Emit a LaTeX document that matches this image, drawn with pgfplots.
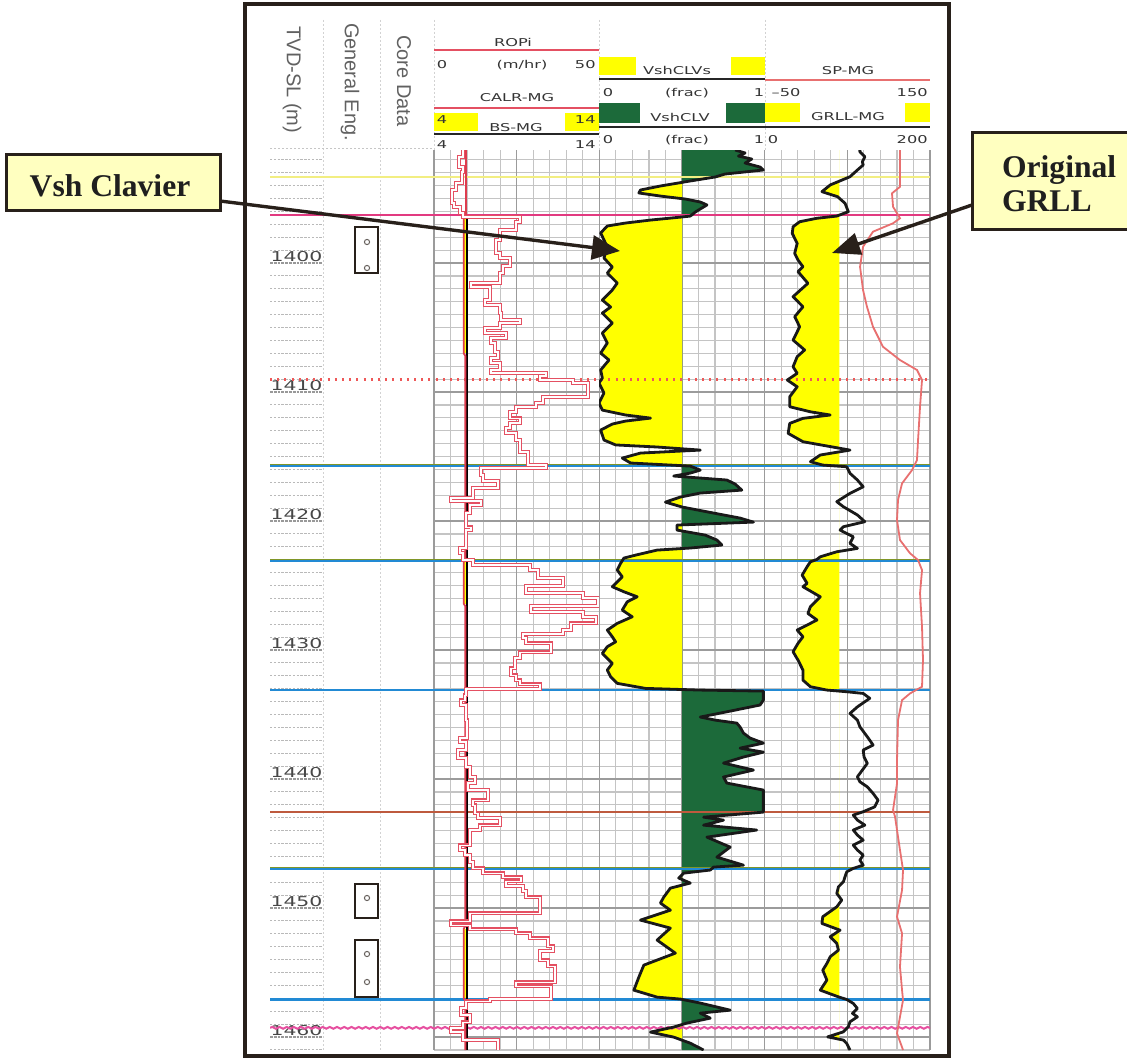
\documentclass[border=0pt]{standalone}
\usepackage{pgfplots}
\pgfplotsset{compat=1.18}
\usepackage{pgfplotstable}
\usepackage{fontspec}
\setmainfont{Liberation Serif}
\newfontfamily\logfont[FakeStretch=1.5]{DejaVu Sans}
\newfontfamily\colfont{Liberation Sans}
\usetikzlibrary{arrows.meta,decorations.pathmorphing}

\definecolor{shyellow}{RGB}{255,255,0}
\definecolor{shgreen}{RGB}{28,106,58}
\definecolor{ropred}{RGB}{228,80,98}
\definecolor{calred}{RGB}{222,60,78}
\definecolor{spred}{RGB}{232,112,112}
\definecolor{framec}{RGB}{40,32,26}
\definecolor{calloutfill}{RGB}{255,255,192}
\definecolor{topyellow}{RGB}{242,238,130}
\definecolor{topmagenta}{RGB}{226,58,128}
\definecolor{topred}{RGB}{238,88,88}
\definecolor{topblue}{RGB}{34,138,212}
\definecolor{topolive}{RGB}{128,150,40}
\definecolor{topbrown}{RGB}{190,90,62}
\definecolor{toppink}{RGB}{230,80,160}
\definecolor{hdrtext}{RGB}{52,52,52}
\definecolor{gridminor}{RGB}{196,196,196}
\definecolor{gridmajor}{RGB}{155,155,155}

% depth (m), shale volume Clavier (frac)
\pgfplotstableread{
d v
1391.24 0.82
1391.47 0.88
1391.71 0.84
1391.94 0.92
1392.25 0.88
1392.56 0.97
1392.79 0.99
1393.10 0.76
1393.33 0.70
1393.64 0.55
1394.03 0.37
1394.34 0.25
1394.57 0.24
1394.81 0.37
1395.04 0.52
1395.27 0.61
1395.50 0.65
1395.81 0.61
1396.05 0.58
1396.36 0.55
1396.43 0.50
1396.67 0.31
1396.90 0.16
1397.13 0.05
1397.67 0.01
1398.76 0.05
1399.61 0.03
1400.31 0.08
1400.78 0.05
1401.55 0.11
1402.09 0.08
1402.87 0.02
1403.41 0.07
1403.88 0.02
1404.65 0.08
1405.43 0.02
1406.20 0.05
1406.98 0.01
1407.52 0.06
1408.29 0.01
1408.91 0.02
1409.30 0.00
1410.08 0.03
1410.85 0.00
1411.40 0.02
1411.78 0.16
1412.02 0.31
1412.25 0.16
1412.48 0.08
1412.95 0.01
1413.72 0.03
1414.10 0.10
1414.26 0.35
1414.50 0.61
1414.73 0.25
1415.12 0.14
1415.50 0.19
1415.74 0.55
1416.05 0.61
1416.28 0.55
1416.51 0.45
1416.82 0.77
1417.13 0.82
1417.60 0.86
1417.83 0.61
1418.14 0.49
1418.53 0.40
1418.91 0.50
1419.38 0.69
1419.77 0.85
1420.08 0.93
1420.31 0.47
1420.70 0.47
1421.09 0.64
1421.47 0.71
1421.86 0.74
1422.09 0.55
1422.25 0.35
1422.64 0.22
1422.87 0.15
1423.28 0.13
1423.80 0.11
1424.32 0.14
1425.09 0.08
1425.48 0.15
1425.87 0.23
1426.26 0.17
1426.90 0.14
1427.42 0.20
1427.93 0.11
1428.45 0.05
1428.97 0.08
1429.36 0.10
1429.74 0.05
1430.26 0.02
1430.64 0.05
1431.03 0.08
1431.55 0.05
1432.07 0.07
1432.58 0.11
1432.97 0.28
1433.10 0.61
1433.18 0.99
1433.88 0.99
1434.26 0.97
1434.81 0.76
1435.19 0.61
1435.43 0.70
1435.66 0.83
1435.97 0.85
1436.43 0.87
1436.82 0.91
1437.21 0.99
1437.60 0.85
1437.91 0.99
1438.29 0.87
1438.76 0.75
1439.30 0.93
1439.84 0.75
1440.31 0.77
1440.85 0.99
1442.56 0.99
1442.95 0.63
1443.18 0.75
1443.57 0.63
1443.95 0.95
1444.50 0.65
1445.27 0.79
1446.05 0.71
1446.67 0.87
1446.82 0.69
1447.05 0.67
1447.29 0.51
1447.67 0.48
1448.06 0.55
1448.45 0.43
1449.15 0.39
1449.61 0.37
1450.16 0.43
1450.93 0.25
1451.55 0.43
1452.48 0.35
1453.49 0.46
1454.42 0.27
1455.35 0.24
1456.36 0.21
1456.90 0.35
1457.05 0.49
1457.36 0.61
1457.91 0.79
1458.14 0.61
1458.53 0.67
1458.91 0.53
1459.22 0.45
1459.61 0.31
1460.00 0.45
1460.47 0.55
1461.00 0.63
}\vshtab

% depth (m), gamma ray GRLL-MG (API)
\pgfplotstableread{
d g
1391.24 115
1391.37 115
1391.76 121
1392.15 118
1392.40 119
1392.79 112
1393.31 103
1393.95 79
1394.47 69
1394.86 88
1395.37 97
1396.02 101
1396.36 87
1396.53 63
1396.80 42
1397.19 34
1397.70 33
1398.47 39
1399.25 36
1399.77 40
1400.29 46
1400.67 40
1401.57 52
1402.61 34
1403.39 46
1404.16 36
1404.94 42
1405.97 34
1406.74 48
1407.26 39
1408.04 34
1408.55 39
1409.07 27
1409.59 39
1410.36 30
1411.14 30
1411.53 55
1411.78 79
1412.04 46
1412.43 30
1413.20 28
1413.85 46
1414.50 103
1414.88 67
1415.40 55
1415.66 70
1415.79 99
1416.30 103
1416.82 112
1417.34 119
1417.85 103
1418.50 87
1418.89 95
1419.53 112
1420.05 121
1420.44 95
1420.70 91
1421.22 107
1421.73 103
1422.12 112
1422.38 87
1422.77 67
1422.97 63
1423.16 55
1423.54 51
1424.19 45
1424.83 51
1425.09 46
1425.87 67
1426.64 55
1427.16 52
1427.67 63
1428.45 39
1428.97 46
1429.48 40
1430.13 34
1430.78 40
1431.55 46
1432.33 46
1432.84 55
1433.10 75
1433.23 99
1433.36 119
1433.74 127
1434.40 112
1434.91 103
1435.43 112
1435.95 115
1436.72 124
1437.36 131
1437.75 119
1438.27 120
1438.78 124
1439.30 118
1439.82 112
1440.21 115
1440.60 124
1441.11 131
1441.63 137
1442.15 133
1442.53 119
1442.79 107
1443.18 112
1443.57 121
1443.95 107
1444.34 112
1444.73 119
1445.12 107
1445.50 112
1445.89 119
1446.28 115
1446.67 119
1446.92 107
1447.19 99
1447.57 97
1447.96 95
1448.35 89
1448.86 87
1449.38 93
1449.90 87
1450.67 70
1451.19 69
1451.71 91
1452.22 79
1452.74 87
1453.26 89
1453.77 79
1454.29 75
1454.81 70
1455.58 75
1456.36 67
1456.88 89
1457.08 99
1457.39 107
1457.78 112
1458.16 106
1458.43 112
1458.81 103
1459.20 101
1459.59 95
1459.98 76
1460.23 95
1460.49 99
1461.00 103
}\grtab

% depth (m), spontaneous potential SP-MG (mV)
\pgfplotstableread{
d s
1391.24 113.6
1394.09 113.6
1394.60 103.9
1395.64 105.2
1396.53 113.6
1396.92 105.2
1397.57 80.9
1398.74 68.8
1400.29 65.2
1402.09 68.8
1403.39 73.6
1404.94 80.9
1406.49 93.0
1407.52 113.6
1408.29 134.2
1409.07 140.3
1411.14 137.9
1413.72 135.5
1415.27 134.2
1416.05 128.2
1417.08 116.1
1418.37 111.2
1419.92 110.0
1421.47 113.6
1422.50 125.8
1423.02 135.5
1423.80 140.3
1425.60 137.9
1428.19 140.3
1430.78 141.5
1432.84 140.3
1433.36 125.8
1433.88 116.1
1435.43 111.2
1438.53 110.0
1440.33 110.0
1442.40 105.2
1442.92 107.6
1445.50 113.6
1447.05 117.3
1448.60 116.1
1450.67 110.0
1451.96 116.1
1454.55 113.6
1456.36 116.1
1457.13 117.3
1458.43 113.6
1459.71 110.0
1461.00 117.3
}\sptab

% depth at top of each interval (m), rate of penetration ROPi (m/hr)
\pgfplotstableread{
d r
1391.24 8.79
1391.78 7.58
1392.56 8.79
1392.95 8.48
1393.80 6.67
1394.34 5.45
1395.35 6.06
1395.66 7.88
1396.12 8.79
1396.43 26.06
1396.82 24.85
1397.44 20.00
1398.22 18.79
1399.22 20.00
1399.61 23.03
1400.23 20.91
1400.78 20.00
1401.55 11.21
1401.86 16.97
1402.87 15.45
1403.26 20.00
1403.88 20.30
1404.42 26.06
1404.65 20.00
1405.04 15.45
1405.43 21.82
1405.81 17.27
1406.20 18.48
1406.90 19.39
1407.36 17.27
1407.75 20.00
1408.29 17.27
1408.53 33.94
1408.76 32.12
1409.07 42.12
1409.30 46.67
1410.39 33.03
1410.85 30.91
1411.16 24.85
1411.55 23.03
1412.02 26.06
1412.40 23.03
1412.79 21.82
1413.18 24.85
1413.72 26.06
1414.65 28.48
1415.66 33.94
1415.89 14.24
1416.43 14.85
1416.90 19.39
1417.44 11.82
1418.22 5.15
1418.45 14.24
1418.76 10.91
1419.38 9.70
1420.47 11.21
1420.70 9.70
1422.09 7.88
1422.48 8.79
1423.02 11.82
1423.41 29.09
1423.80 31.52
1424.42 39.09
1425.04 27.88
1425.58 45.15
1425.97 49.70
1426.59 29.39
1427.05 45.15
1427.44 49.09
1427.91 41.52
1428.45 39.09
1428.76 26.97
1429.07 27.88
1429.46 35.45
1430.16 26.06
1430.62 24.55
1431.40 23.33
1431.94 24.85
1432.33 26.06
1432.64 32.12
1433.02 9.70
1433.49 9.39
1433.88 8.18
1434.26 9.70
1435.43 10.00
1436.82 7.88
1437.13 9.70
1437.75 7.27
1438.37 9.70
1439.07 10.91
1439.84 12.42
1440.31 10.30
1440.85 16.36
1441.63 11.82
1442.02 12.42
1442.64 13.33
1443.02 20.00
1443.57 13.94
1443.95 10.91
1445.12 7.88
1445.50 9.39
1445.89 10.91
1446.43 11.82
1446.90 14.85
1447.29 20.91
1447.60 26.36
1447.91 21.82
1448.29 26.97
1448.68 27.88
1449.15 32.12
1450.39 10.91
1451.01 5.15
1451.32 10.91
1451.63 24.85
1451.94 29.09
1452.33 34.55
1452.95 36.06
1453.33 32.12
1454.03 34.55
1454.50 36.67
1455.74 24.85
1456.05 35.45
1457.05 16.97
1457.21 9.70
1457.75 8.18
1458.29 10.91
1458.84 8.79
1459.30 5.15
1459.61 8.79
1460.23 19.39
1461.00 19.39
}\roptab

% depth (m), caliper CALR-MG (in)
\pgfplotstableread{
d c
1391.24 5.94
1396.40 5.94
1396.50 5.80
1407.00 5.80
1407.20 5.90
1423.05 5.90
1423.15 5.80
1426.40 5.80
1426.60 5.90
1451.40 5.90
1451.60 5.80
1457.00 5.80
1457.20 5.90
1461.00 5.90
}\caltab

\pgfplotsset{
  logaxis/.style={scale only axis, anchor=north west, height=450pt,
    ymin=1391.24, ymax=1461.0, y dir=reverse},
  curveaxis/.style={logaxis, hide axis, clip=true},
}

\tikzset{
  hdr/.style={font={\logfont\fontsize{5.4}{6}\selectfont}, text=hdrtext, inner sep=0pt},
  colhdr/.style={font={\colfont\fontsize{10}{12}\selectfont}, text=black!62, rotate=-90, inner sep=0pt},
  depthlbl/.style={font={\logfont\fontsize{6.8}{8}\selectfont}, text=black!72, anchor=south, inner sep=0.6pt},
  callout/.style={font={\bfseries\fontsize{15.8}{17}\selectfont}, text=black!88},
  px/.style={x=0.5pt, y=-0.5pt},
}

\begin{document}
\begin{tikzpicture}
% the sheet: 1127 x 1059 units of 0.5pt, measured down from the top left
\useasboundingbox (0pt,0pt) rectangle (563.5pt,-529.5pt);
\clip (0pt,0pt) rectangle (563.5pt,-529.5pt);

\begin{scope}[px]
% ---------- column separators and header rules ----------
\draw[gray!35, line width=0.4pt, dash pattern=on 1pt off 1pt] (323,20) -- (323,1050);
\draw[gray!35, line width=0.4pt, dash pattern=on 1pt off 1pt] (380,20) -- (380,1050);
\draw[gray!35, line width=0.4pt, dash pattern=on 1pt off 1pt] (434,20) -- (434,150);
\draw[gray!35, line width=0.4pt, dash pattern=on 1pt off 1pt] (599,20) -- (599,150);
\draw[gray!35, line width=0.4pt, dash pattern=on 1pt off 1pt] (765,20) -- (765,150);
\draw[gray!45, line width=0.4pt, dash pattern=on 1pt off 1pt] (270,148) -- (434,148);
\end{scope}

% ---------- depth column grid and labels ----------
\begin{axis}[logaxis, at={(135pt,-75pt)}, width=26.5pt, xmin=0, xmax=1,
  axis line style={draw=none}, tick style={draw=none},
  xtick=\empty, ytick={1392,...,1461}, yticklabels={},
  ymajorgrids, major grid style={gray!55, line width=0.5pt, dash pattern=on 1.2pt off 0.7pt},
  extra y ticks={1400,1410,...,1460}, extra y tick labels={},
  extra y tick style={grid=major, major grid style={gray!80, line width=0.7pt, dash pattern=on 1.4pt off 0.5pt}}]
\node[depthlbl] at (axis cs:0.5,1400) {1400};
\node[depthlbl] at (axis cs:0.5,1410) {1410};
\node[depthlbl] at (axis cs:0.5,1420) {1420};
\node[depthlbl] at (axis cs:0.5,1430) {1430};
\node[depthlbl] at (axis cs:0.5,1440) {1440};
\node[depthlbl] at (axis cs:0.5,1450) {1450};
\node[depthlbl] at (axis cs:0.5,1460) {1460};
\end{axis}

% ---------- grid of the three log tracks ----------
\begin{axis}[logaxis, at={(217pt,-75pt)}, width=248pt, xmin=0, xmax=30,
  axis line style={draw=none}, tick style={draw=none},
  xtick={0,...,30}, ytick={1392,...,1461}, xticklabels={}, yticklabels={},
  grid=major, major grid style={gridminor, line width=0.6pt},
  extra x ticks={0,5,...,30}, extra x tick labels={},
  extra x tick style={grid=major, major grid style={gridmajor, line width=0.7pt}},
  extra y ticks={1400,1410,...,1460}, extra y tick labels={},
  extra y tick style={grid=major, major grid style={gridmajor, line width=1pt}}]
\end{axis}

\begin{scope}[px]
% ---------- header: track 1 ----------
\node[hdr] at (513,42) {ROPi};
\draw[ropred, line width=1.2pt] (434,50) -- (599,50);
\node[hdr] at (442,65) {0};
\node[hdr] at (522,65) {(m/hr)};
\node[hdr, anchor=east] at (596,65) {50};
\node[hdr] at (517,98) {CALR-MG};
\draw[ropred, line width=1.2pt] (434,108) -- (599,108);
\fill[shyellow] (434,113) rectangle (478,131);
\fill[shyellow] (565,113) rectangle (599,131);
\node[hdr] at (442,120) {4};
\node[hdr, anchor=east] at (596,120) {14};
\node[hdr] at (516,128) {BS-MG};
\draw[black!85, line width=1.3pt] (434,134) -- (599,134);
\node[hdr] at (442,145) {4};
\node[hdr, anchor=east] at (596,145) {14};

% ---------- header: track 2 ----------
\fill[shyellow] (599,57) rectangle (636,75);
\fill[shyellow] (731,57) rectangle (765,75);
\node[hdr] at (677,70) {VshCLVs};
\draw[black!85, line width=1.3pt] (599,79) -- (765,79);
\node[hdr] at (608,93) {0};
\node[hdr] at (687,93) {(frac)};
\node[hdr] at (759,93) {1};
\fill[shgreen] (599,103) rectangle (640,123);
\fill[shgreen] (726,103) rectangle (765,123);
\node[hdr] at (680,117) {VshCLV};
\draw[black!85, line width=1.3pt] (599,127) -- (930,127);
\node[hdr] at (608,140) {0};
\node[hdr] at (687,140) {(frac)};
\node[hdr] at (759,140) {1};

% ---------- header: track 3 ----------
\node[hdr] at (848,71) {SP-MG};
\draw[spred, line width=1.2pt] (765,80) -- (930,80);
\node[hdr] at (786,93) {–50};
\node[hdr, anchor=east] at (928,93) {150};
\fill[shyellow] (765,103) rectangle (800,122);
\fill[shyellow] (905,103) rectangle (930,122);
\node[hdr] at (848,117) {GRLL-MG};
\node[hdr] at (773,140) {0};
\node[hdr, anchor=east] at (928,140) {200};

% ---------- rotated column titles ----------
\node[colhdr] at (292,80) {TVD-SL (m)};
\node[colhdr] at (350,82) {General Eng.};
\node[colhdr] at (404,81) {Core Data};
\end{scope}

% ---------- shading: sand (yellow) and shale (green) ----------
\begin{axis}[curveaxis, at={(299.5pt,-75pt)}, width=41.5pt, xmin=0, xmax=0.5]
\addplot[fill=shyellow, draw=none] table[x=v, y=d] {\vshtab}
  -- (axis cs:0.5,1461.0) -- (axis cs:0.5,1391.24) -- cycle;
\end{axis}
\begin{axis}[curveaxis, at={(341pt,-75pt)}, width=41.5pt, xmin=0.5, xmax=1]
\addplot[fill=shgreen, draw=none] table[x=v, y=d] {\vshtab}
  -- (axis cs:0.5,1461.0) -- (axis cs:0.5,1391.24) -- cycle;
\end{axis}
\begin{axis}[curveaxis, at={(382.5pt,-75pt)}, width=37.125pt, xmin=0, xmax=90]
\addplot[fill=shyellow, draw=none] table[x=g, y=d] {\grtab}
  -- (axis cs:90,1461.0) -- (axis cs:90,1391.24) -- cycle;
\end{axis}

% ---------- formation tops ----------
\begin{axis}[curveaxis, at={(135pt,-75pt)}, width=330pt, xmin=0, xmax=1]
\addplot[topyellow, line width=0.8pt] coordinates {(0,1393.33) (1,1393.33)};
\addplot[topmagenta, line width=1.1pt] coordinates {(0,1396.28) (1,1396.28)};
\addplot[topred, line width=1.2pt, dash pattern=on 1pt off 2.6pt] coordinates {(0,1409.03) (1,1409.03)};
\addplot[topblue, line width=1.1pt] coordinates {(0,1415.70) (1,1415.70)};
\addplot[topolive, line width=0.55pt] coordinates {(0,1415.60) (1,1415.60)};
\addplot[topblue, line width=1.1pt] coordinates {(0,1423.05) (1,1423.05)};
\addplot[topolive, line width=0.55pt] coordinates {(0,1422.95) (1,1422.95)};
\addplot[topblue, line width=1.2pt] coordinates {(0,1433.10) (1,1433.10)};
\addplot[topbrown, line width=0.8pt] coordinates {(0,1442.53) (1,1442.53)};
\addplot[topblue, line width=1.1pt] coordinates {(0,1446.95) (1,1446.95)};
\addplot[topolive, line width=0.55pt] coordinates {(0,1446.85) (1,1446.85)};
\addplot[topblue, line width=1.2pt] coordinates {(0,1457.08) (1,1457.08)};
\addplot[toppink, line width=1pt, decorate, decoration={snake, amplitude=0.45pt, segment length=3.6pt}]
  coordinates {(0,1459.28) (1,1459.28)};
\end{axis}

% ---------- track 1: caliper, bit size, ROP ----------
\begin{axis}[curveaxis, at={(217pt,-75pt)}, width=82.5pt, xmin=4, xmax=14]
\addplot[fill=shyellow, draw=none] coordinates {(5.80,1396.5) (6,1396.5) (6,1407.0) (5.80,1407.0)};
\addplot[fill=shyellow, draw=none] coordinates {(5.80,1423.15) (6,1423.15) (6,1426.4) (5.80,1426.4)};
\addplot[fill=shyellow, draw=none] coordinates {(5.80,1451.6) (6,1451.6) (6,1457.0) (5.80,1457.0)};
\addplot[black, line width=1.1pt] coordinates {(6,1396.4) (6,1461.0)};
\addplot[calred, line width=0.9pt] table[x=c, y=d] {\caltab};
\end{axis}
\begin{axis}[curveaxis, at={(217pt,-75pt)}, width=82.5pt, xmin=0, xmax=50]
\addplot[ropred, line width=1.9pt, const plot mark right] table[x=r, y=d] {\roptab};
\addplot[white, line width=0.6pt, const plot mark right] table[x=r, y=d] {\roptab};
\end{axis}

% ---------- track 2: Vsh Clavier ----------
\begin{axis}[curveaxis, at={(299.5pt,-75pt)}, width=83pt, xmin=0, xmax=1]
\addplot[black!90, line width=1.4pt, line join=round] table[x=v, y=d] {\vshtab};
\end{axis}

% ---------- track 3: SP and GRLL ----------
\begin{axis}[curveaxis, at={(382.5pt,-75pt)}, width=82.5pt, xmin=-50, xmax=150]
\addplot[spred, line width=0.9pt] table[x=s, y=d] {\sptab};
\end{axis}
\begin{axis}[curveaxis, at={(382.5pt,-75pt)}, width=82.5pt, xmin=0, xmax=200]
\addplot[black!90, line width=1.4pt, line join=round] table[x=g, y=d] {\grtab};
\end{axis}

\begin{scope}[px]
% ---------- core intervals ----------
\draw[framec, line width=1pt, fill=white] (355,227) rectangle (378,273);
\draw[framec!70, line width=0.5pt] (367,242) circle[radius=1.3pt];
\draw[framec!70, line width=0.5pt] (367,268) circle[radius=1.3pt];
\draw[framec, line width=1pt, fill=white] (355,884) rectangle (378,918);
\draw[framec!70, line width=0.5pt] (367,898) circle[radius=1.3pt];
\draw[framec, line width=1pt, fill=white] (355,940) rectangle (378,997);
\draw[framec!70, line width=0.5pt] (367,954) circle[radius=1.3pt];
\draw[framec!70, line width=0.5pt] (367,982) circle[radius=1.3pt];

% ---------- outer frame ----------
\draw[framec, line width=1.6pt] (245,4) rectangle (949,1056);

% ---------- callouts ----------
\draw[framec, line width=1.5pt, fill=calloutfill] (6,155) rectangle (220,210);
\node[callout, anchor=base] at (110,197) {Vsh Clavier};
\draw[framec, line width=1.5pt, fill=calloutfill] (972,133) rectangle (1145,229);
\node[callout, anchor=base west] at (995,177) {Original};
\node[callout, anchor=base west] at (995,211) {GRLL};
\draw[framec, line width=1.7pt, -{Triangle[length=14pt, width=12pt]}] (220,201) -- (620,251);
\draw[framec, line width=1.7pt, -{Triangle[length=14pt, width=11pt]}] (972,205) -- (832,253);
\end{scope}
\end{tikzpicture}
\end{document}
